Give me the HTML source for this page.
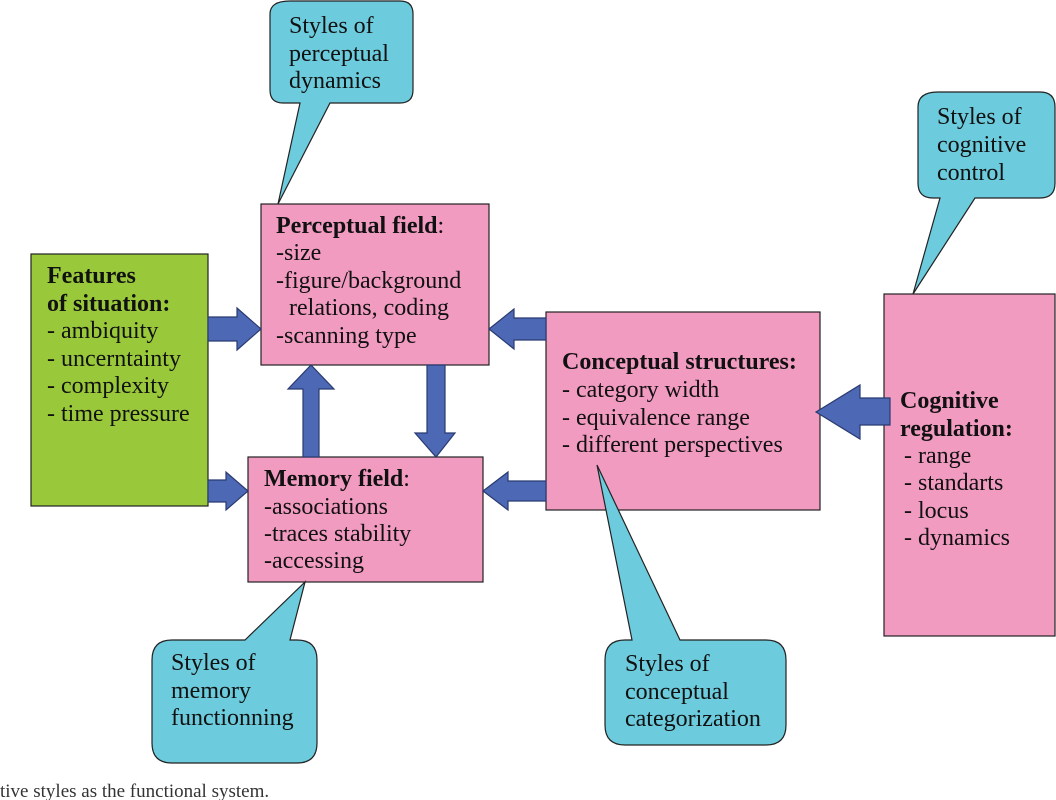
<!DOCTYPE html>
<html><head><meta charset="utf-8"><style>
html,body{margin:0;padding:0;background:#fff;}
svg{display:block;}
text{font-family:"Liberation Serif",serif;font-size:24px;fill:#111;}
.b{font-weight:bold;}
</style></head><body>
<svg width="1056" height="800" viewBox="0 0 1056 800">
<g stroke="#222" stroke-width="1.2">
<!-- callouts -->
<path d="M290,1 H400 Q413,1 413,14 V90 Q413,103 400,103 H330 L278,204 L300,103 H283 Q270,103 270,90 V14 Q270,1 290,1 Z" fill="#6ccbdc"/>
<path d="M938,92 H1040 Q1055,92 1055,107 V183 Q1055,198 1040,198 H975 L913,294 L940,198 H933 Q918,198 918,183 V107 Q918,92 938,92 Z" fill="#6ccbdc"/>
<!-- boxes -->
<rect x="31" y="254" width="177" height="252" fill="#99c93a"/>
<rect x="261" y="204" width="228" height="161" fill="#f29bc1"/>
<rect x="248" y="457" width="235" height="125" fill="#f29bc1"/>
<rect x="546" y="312" width="274" height="198" fill="#f29bc1"/>
<rect x="884" y="294" width="171" height="342" fill="#f29bc1"/>
<path d="M172,640 H245 L305,582 L290,640 H297 Q317,640 317,660 V743 Q317,763 297,763 H172 Q152,763 152,743 V660 Q152,640 172,640 Z" fill="#6ccbdc"/>
<path d="M625,640 H632 L597,465 L680,640 H766 Q786,640 786,660 V725 Q786,745 766,745 H625 Q605,745 605,725 V660 Q605,640 625,640 Z" fill="#6ccbdc"/>
<!-- arrows -->
<g fill="#4d68b4" stroke="#2a3a70">
<path d="M208,317 H237 V308 L261,329 L237,350 V341 H208 Z"/>
<path d="M208,480 H226 V472 L248,491 L226,510 V502 H208 Z"/>
<path d="M546,318 H514 V309 L489,329 L514,349 V340 H546 Z"/>
<path d="M546,481 H508 V472 L483,491 L508,510 V501 H546 Z"/>
<path d="M303,457 V389 H288 L311,365 L334,389 H319 V457 Z"/>
<path d="M427,365 V433 H415 L436,457 L455,433 H445 V365 Z"/>
<path d="M890,398 H860 V385 L816,412 L860,439 V425 H890 Z"/>
</g>
</g>
<!-- text -->
<text x="289" y="33">Styles of</text><text x="289" y="61">perceptual</text><text x="289" y="88">dynamics</text>
<text x="937" y="124">Styles of</text><text x="937" y="152">cognitive</text><text x="937" y="180">control</text>
<text x="171" y="670">Styles of</text><text x="171" y="698">memory</text><text x="171" y="725">functionning</text>
<text x="625" y="671">Styles of</text><text x="625" y="699">conceptual</text><text x="625" y="726">categorization</text>
<text x="47" y="283" class="b">Features</text><text x="47" y="311" class="b">of situation:</text>
<text x="47" y="338">- ambiquity</text><text x="47" y="366">- uncerntainty</text><text x="47" y="393">- complexity</text><text x="47" y="421">- time pressure</text>
<text x="276" y="233"><tspan class="b">Perceptual field</tspan>:</text>
<text x="276" y="260">-size</text><text x="276" y="288">-figure/background</text><text x="289" y="315">relations, coding</text><text x="276" y="343">-scanning type</text>
<text x="264" y="486"><tspan class="b">Memory field</tspan>:</text>
<text x="264" y="514">-associations</text><text x="264" y="541">-traces stability</text><text x="264" y="568">-accessing</text>
<text x="562" y="369" class="b">Conceptual structures:</text>
<text x="562" y="397">- category width</text><text x="562" y="425">- equivalence range</text><text x="562" y="452">- different perspectives</text>
<text x="900" y="408" class="b">Cognitive</text><text x="900" y="436" class="b">regulation:</text>
<text x="904" y="463">- range</text><text x="904" y="490">- standarts</text><text x="904" y="518">- locus</text><text x="904" y="545">- dynamics</text>
<text x="0" y="797" style="font-size:19px;fill:#333">tive styles as the functional system.</text>
</svg>
</body></html>
